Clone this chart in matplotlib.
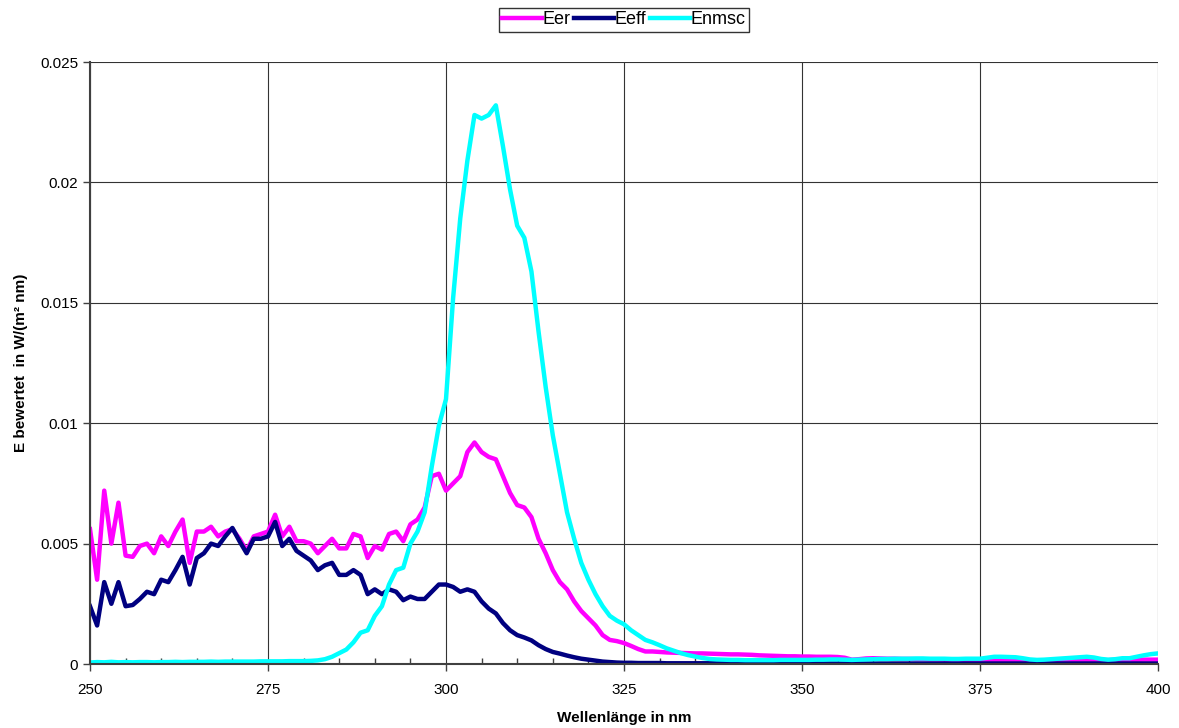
import numpy as np
import matplotlib
matplotlib.use("Agg")
import matplotlib.pyplot as plt
from matplotlib.ticker import MultipleLocator, FuncFormatter

plt.rcParams["font.family"] = ["Liberation Sans", "DejaVu Sans"]

# wavelength in nm, 1 nm steps
wavelength = list(range(250, 401))

eer = [
    0.0056, 0.0035, 0.0072, 0.0050, 0.0067, 0.0045, 0.00445, 0.0049, 0.0050, 0.0046,  # 250-259
    0.0053, 0.0049, 0.0055, 0.0060, 0.0042, 0.0055, 0.0055, 0.0057, 0.0053, 0.0055,  # 260-269
    0.0056, 0.0052, 0.0047, 0.0053, 0.0054, 0.0055, 0.0062, 0.0053, 0.0057, 0.0051,  # 270-279
    0.0051, 0.0050, 0.0046, 0.0049, 0.0052, 0.0048, 0.0048, 0.0054, 0.0053, 0.0044,  # 280-289
    0.0049, 0.00475, 0.0054, 0.0055, 0.0051, 0.0058, 0.0060, 0.0065, 0.0078, 0.0079,  # 290-299
    0.0072, 0.0075, 0.0078, 0.0088, 0.0092, 0.0088, 0.0086, 0.0085, 0.0078, 0.0071,  # 300-309
    0.0066, 0.0065, 0.0061, 0.0052, 0.0046, 0.0039, 0.0034, 0.0031, 0.0026, 0.0022,  # 310-319
    0.0019, 0.0016, 0.0012, 0.0010, 0.00095, 0.00087, 0.00075, 0.00062, 0.00052, 0.00052,  # 320-329
    0.00050, 0.00048, 0.00047, 0.00046, 0.00045, 0.00044, 0.00044, 0.00043, 0.00042, 0.00041,  # 330-339
    0.00040, 0.00040, 0.00039, 0.00038, 0.00036, 0.00035, 0.00034, 0.00033, 0.00032, 0.00032,  # 340-349
    0.00031, 0.00031, 0.00030, 0.00030, 0.00030, 0.00029, 0.00026, 0.00018, 0.00020, 0.00023,  # 350-359
    0.00024, 0.00023, 0.00022, 0.00022, 0.00021, 0.00021, 0.00020, 0.00020, 0.00019, 0.00019,  # 360-369
    0.00018, 0.00018, 0.00018, 0.00017, 0.00017, 0.00017, 0.00016, 0.00016, 0.00016, 0.00015,  # 370-379
    0.00015, 0.00015, 0.00014, 0.00014, 0.00015, 0.00015, 0.00016, 0.00016, 0.00017, 0.00016,  # 380-389
    0.00015, 0.00015, 0.00016, 0.00016, 0.00017, 0.00017, 0.00016, 0.00017, 0.00018, 0.00018,  # 390-399
    0.00018,  # 400
]

eeff = [
    0.0024, 0.0016, 0.0034, 0.0025, 0.0034, 0.0024, 0.00245, 0.0027, 0.0030, 0.0029,  # 250-259
    0.0035, 0.0034, 0.0039, 0.00445, 0.0033, 0.0044, 0.0046, 0.0050, 0.0049, 0.0053,  # 260-269
    0.00565, 0.0051, 0.0046, 0.0052, 0.0052, 0.0053, 0.0059, 0.0049, 0.0052, 0.0047,  # 270-279
    0.0045, 0.0043, 0.0039, 0.0041, 0.0042, 0.0037, 0.0037, 0.0039, 0.0037, 0.0029,  # 280-289
    0.0031, 0.0029, 0.0031, 0.0030, 0.00265, 0.0028, 0.0027, 0.0027, 0.0030, 0.0033,  # 290-299
    0.0033, 0.0032, 0.0030, 0.0031, 0.0030, 0.0026, 0.0023, 0.0021, 0.0017, 0.0014,  # 300-309
    0.0012, 0.0011, 0.00098, 0.00078, 0.00062, 0.00050, 0.00043, 0.00035, 0.00028, 0.00022,  # 310-319
    0.00018, 0.00014, 0.00010, 0.00008, 0.00006, 0.00005, 0.00005, 0.00004, 0.00004, 0.00004,  # 320-329
    0.00004, 0.00003, 0.00003, 0.00003, 0.00003, 0.00003, 0.00003, 0.00003, 0.00003, 0.00003,  # 330-339
    0.00002, 0.00002, 0.00002, 0.00002, 0.00002, 0.00002, 0.00002, 0.00002, 0.00002, 0.00002,  # 340-349
    0.00002, 0.00002, 0.00002, 0.00002, 0.00002, 0.00002, 0.00002, 0.00002, 0.00002, 0.00002,  # 350-359
    0.00002, 0.00002, 0.00002, 0.00002, 0.00002, 0.00002, 0.00002, 0.00002, 0.00002, 0.00002,  # 360-369
    0.00002, 0.00002, 0.00002, 0.00002, 0.00002, 0.00002, 0.00002, 0.00002, 0.00002, 0.00002,  # 370-379
    0.00002, 0.00002, 0.00002, 0.00002, 0.00002, 0.00002, 0.00002, 0.00002, 0.00002, 0.00002,  # 380-389
    0.00002, 0.00002, 0.00002, 0.00002, 0.00002, 0.00002, 0.00002, 0.00002, 0.00002, 0.00002,  # 390-399
    0.00002,  # 400
]

enmsc = [
    0.00006, 0.00008, 0.00007, 0.00009, 0.00007, 0.00008, 0.00007, 0.00008, 0.00008, 0.00007,  # 250-259
    0.00008, 0.00008, 0.00009, 0.00008, 0.00009, 0.00009, 0.00009, 0.00010, 0.00009, 0.00010,  # 260-269
    0.00010, 0.00010, 0.00010, 0.00010, 0.00011, 0.00011, 0.00011, 0.00011, 0.00012, 0.00012,  # 270-279
    0.00012, 0.00013, 0.00015, 0.00020, 0.00030, 0.00045, 0.00060, 0.00090, 0.00130, 0.00140,  # 280-289
    0.0020, 0.0024, 0.0033, 0.0039, 0.0040, 0.0050, 0.0055, 0.0063, 0.0082, 0.0099,  # 290-299
    0.0110, 0.0152, 0.0185, 0.0209, 0.0228, 0.02265, 0.0228, 0.0232, 0.0215, 0.0197,  # 300-309
    0.0182, 0.0177, 0.0163, 0.0138, 0.0115, 0.0095, 0.0079, 0.0063, 0.0052, 0.0042,  # 310-319
    0.0035, 0.0029, 0.0024, 0.0020, 0.0018, 0.00165, 0.0014, 0.0012, 0.0010, 0.0009,  # 320-329
    0.00078, 0.00065, 0.00055, 0.00045, 0.00037, 0.00031, 0.00025, 0.00021, 0.00019, 0.00018,  # 330-339
    0.00017, 0.00017, 0.00016, 0.00016, 0.00016, 0.00016, 0.00016, 0.00017, 0.00017, 0.00017,  # 340-349
    0.00017, 0.00017, 0.00018, 0.00018, 0.00019, 0.00019, 0.00018, 0.00017, 0.00018, 0.00019,  # 350-359
    0.00020, 0.00021, 0.00021, 0.00022, 0.00022, 0.00022, 0.00023, 0.00023, 0.00022, 0.00022,  # 360-369
    0.00022, 0.00021, 0.00021, 0.00022, 0.00022, 0.00022, 0.00026, 0.00030, 0.00030, 0.00029,  # 370-379
    0.00028, 0.00024, 0.00019, 0.00017, 0.00018, 0.00020, 0.00022, 0.00024, 0.00026, 0.00028,  # 380-389
    0.00030, 0.00027, 0.00021, 0.00018, 0.00020, 0.00024, 0.00024, 0.00030, 0.00036, 0.00041,  # 390-399
    0.00044,  # 400
]

fig = plt.figure(figsize=(11.79, 7.28), dpi=100)
ax = fig.add_axes([90 / 1179, 64 / 728, 1068 / 1179, 602 / 728])

ax.plot(wavelength, eer, color="#FF00FF", lw=3.2, label="Eer", solid_joinstyle="round")
ax.plot(wavelength, eeff, color="#000080", lw=3.2, label="Eeff", solid_joinstyle="round")
ax.plot(wavelength, enmsc, color="#00FFFF", lw=3.2, label="Enmsc", solid_joinstyle="round")

ax.set_xlim(250, 400)
ax.set_ylim(0, 0.025)
ax.xaxis.set_major_locator(MultipleLocator(25))
ax.xaxis.set_minor_locator(MultipleLocator(5))
ax.yaxis.set_major_locator(MultipleLocator(0.005))
ax.yaxis.set_major_formatter(FuncFormatter(lambda v, p: "%g" % round(v, 4)))
ax.tick_params(axis="both", which="major", direction="out", length=5, width=1,
               labelsize=11, color="#404040")
ax.tick_params(axis="x", which="minor", direction="in", length=4, width=1, color="#404040")
ax.tick_params(axis="x", which="major", pad=9)

ax.grid(True, which="major", color="#333333", lw=0.8)
ax.set_axisbelow(True)
for side in ["top", "right"]:
    ax.spines[side].set_visible(False)
for side in ["left", "bottom"]:
    ax.spines[side].set_color("#404040")
    ax.spines[side].set_linewidth(1.5)

ax.set_xlabel("Wellenlänge in nm", fontsize=11, fontweight="bold", labelpad=10)
ax.set_ylabel("E bewertet  in W/(m² nm)", fontsize=11, fontweight="bold", labelpad=9)

leg = fig.legend(loc="center", bbox_to_anchor=(624 / 1179, 1 - 20 / 728), ncol=3,
                 frameon=True, fancybox=False, edgecolor="black", fontsize=13,
                 handlelength=2.2, handletextpad=0.05, columnspacing=0.2,
                 borderpad=0.2, borderaxespad=0)
leg.get_frame().set_linewidth(1)

fig.savefig("out.png", dpi=100)
